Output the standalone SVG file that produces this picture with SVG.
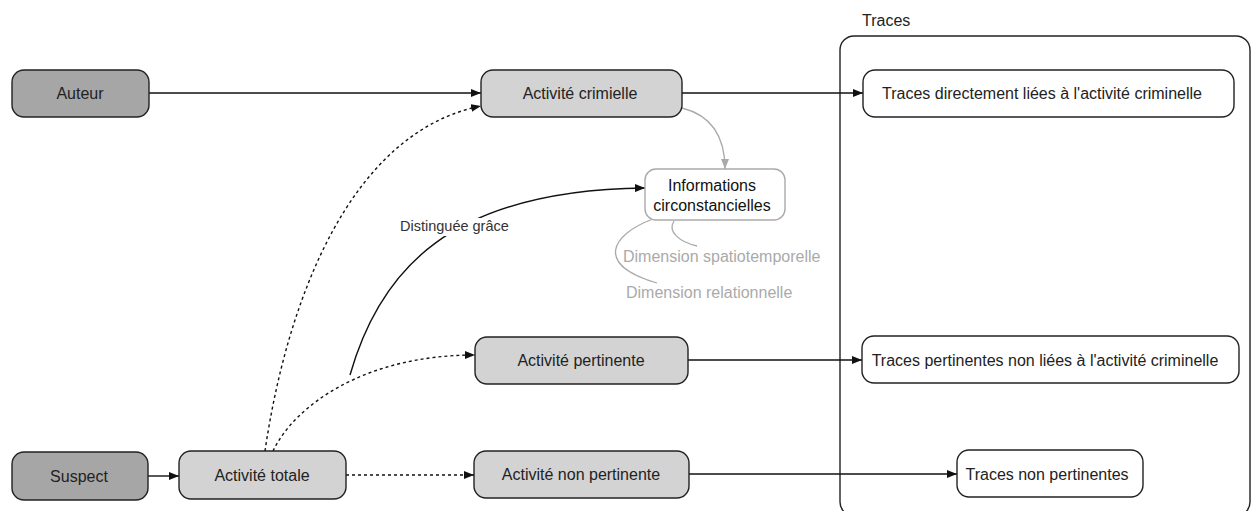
<svg xmlns="http://www.w3.org/2000/svg" width="1252" height="511" viewBox="0 0 1252 511">
  <style>
    text { font-family: "Liberation Sans", Arial, sans-serif; font-size: 16px; fill: #222; }
    .mid { text-anchor: middle; }
    .dark { fill: #a6a6a6; stroke: #222; stroke-width: 1.4; }
    .light { fill: #d3d3d3; stroke: #222; stroke-width: 1.4; }
    .white { fill: #fff; stroke: #222; stroke-width: 1.4; }
    .info { fill: #fff; stroke: #aaa; stroke-width: 1.4; }
    .edge { fill: none; stroke: #111; stroke-width: 1.4; }
    .dash { stroke-dasharray: 3 3; }
    .soft { fill: none; stroke: #aaa; stroke-width: 1.3; }
    .grey { fill: #aaa; }
    .lbl { font-size: 14.5px; fill: #333; }
  </style>
  <defs>
    <marker id="arrow" viewBox="0 0 10 8" refX="10" refY="4" markerWidth="10" markerHeight="8" markerUnits="userSpaceOnUse" orient="auto">
      <path d="M0,0 L10,4 L0,8 z" fill="#111"/>
    </marker>
    <marker id="arrowGrey" viewBox="0 0 10 8" refX="10" refY="4" markerWidth="10" markerHeight="8" markerUnits="userSpaceOnUse" orient="auto">
      <path d="M0,0 L10,4 L0,8 z" fill="#aaa"/>
    </marker>
  </defs>
  <rect width="1252" height="511" fill="#fff"/>

  <!-- container for traces -->
  <g id="traces-group">
    <text x="862" y="26">Traces</text>
    <rect x="840" y="36" width="410" height="480" rx="14" fill="none" stroke="#222" stroke-width="1.4"/>
  </g>

  <!-- connectors -->
  <g id="connectors">
    <path class="edge" d="M149,93 H481" marker-end="url(#arrow)"/>
    <path class="edge" d="M682,93 H863" marker-end="url(#arrow)"/>
    <path class="edge" d="M688,360 H862" marker-end="url(#arrow)"/>
    <path class="edge" d="M689,474 H957" marker-end="url(#arrow)"/>
    <path class="edge" d="M148,476 H179" marker-end="url(#arrow)"/>
    <path class="edge dash" d="M346,475 H474" marker-end="url(#arrow)"/>
    <path class="edge dash" d="M265,451 C287,301 350,132 481,106" marker-end="url(#arrow)"/>
    <path class="edge dash" d="M273,451 C295,405 365,355 475,355" marker-end="url(#arrow)"/>
    <path class="edge" d="M350,375 C380,270 450,190 645,188" marker-end="url(#arrow)"/>
    <path class="soft" d="M682,108 C710,115 725,135 725,169" marker-end="url(#arrowGrey)"/>
    <path class="soft" d="M653,219 C610,235 595,265 657,283"/>
    <path class="soft" d="M674,221 C667,232 680,242 697,246"/>
    <g id="label-distinguee">
      <rect x="397" y="218" width="116" height="18" fill="#fff"/>
      <text class="lbl" x="400" y="231">Distinguée grâce</text>
    </g>
  </g>

  <g id="auteur">
    <rect class="dark" x="12" y="70" width="137" height="47" rx="12"/>
    <text class="mid" x="80" y="99">Auteur</text>
  </g>
  <g id="suspect">
    <rect class="dark" x="12" y="452" width="136" height="48" rx="12"/>
    <text class="mid" x="79" y="482">Suspect</text>
  </g>
  <g id="activite-crimielle">
    <rect class="light" x="481" y="70" width="201" height="47" rx="12"/>
    <text class="mid" x="580" y="99">Activité crimielle</text>
  </g>
  <g id="activite-totale">
    <rect class="light" x="179" y="451" width="167" height="48" rx="12"/>
    <text class="mid" x="262" y="481">Activité totale</text>
  </g>
  <g id="activite-pertinente">
    <rect class="light" x="475" y="337" width="213" height="47" rx="12"/>
    <text class="mid" x="581" y="366">Activité pertinente</text>
  </g>
  <g id="activite-non-pertinente">
    <rect class="light" x="474" y="451" width="215" height="47" rx="12"/>
    <text class="mid" x="581" y="480">Activité non pertinente</text>
  </g>
  <g id="informations">
    <rect class="info" x="645" y="169" width="140" height="51" rx="11"/>
    <text class="mid" x="712" y="191" style="fill:#111">Informations</text>
    <text class="mid" x="712" y="211" style="fill:#111">circonstancielles</text>
  </g>
  <g id="dimensions">
    <text class="grey" x="623" y="262">Dimension spatiotemporelle</text>
    <text class="grey" x="626" y="298">Dimension relationnelle</text>
  </g>
  <g id="traces-directes">
    <rect class="white" x="863" y="70" width="371" height="47" rx="12"/>
    <text class="mid" x="1042" y="99">Traces directement liées à l'activité criminelle</text>
  </g>
  <g id="traces-pertinentes">
    <rect class="white" x="862" y="336" width="377" height="47" rx="12"/>
    <text class="mid" x="1045" y="366">Traces pertinentes non liées à l'activité criminelle</text>
  </g>
  <g id="traces-non-pertinentes">
    <rect class="white" x="957" y="450" width="186" height="47" rx="12"/>
    <text class="mid" x="1047" y="480">Traces non pertinentes</text>
  </g>
</svg>
